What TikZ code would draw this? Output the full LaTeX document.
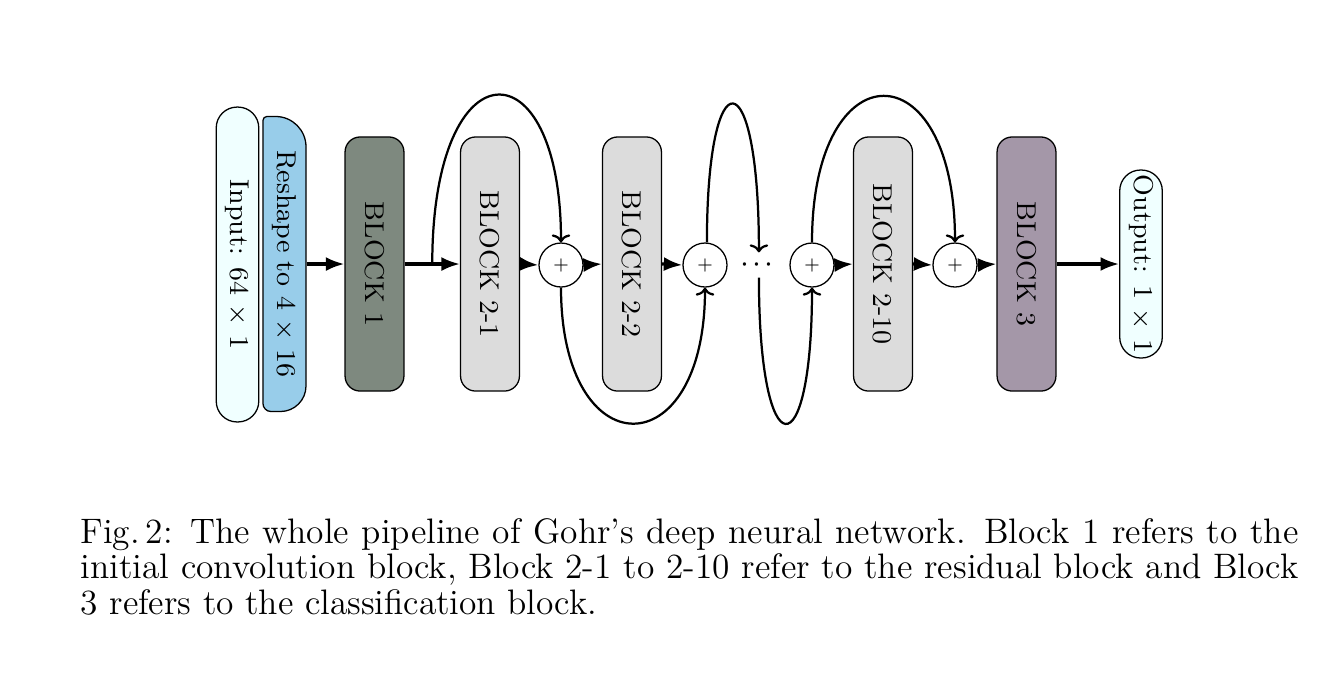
\documentclass[tikz,border=0pt]{standalone}
\usepackage{graphicx}
\usetikzlibrary{arrows.meta,calc}
\definecolor{inpcol}{RGB}{240,255,255}
\definecolor{reshcol}{RGB}{152,205,234}
\definecolor{bonecol}{RGB}{126,137,127}
\definecolor{btwocol}{RGB}{220,220,220}
\definecolor{bthreecol}{RGB}{164,151,168}
\newcommand{\rot}[1]{\rotatebox{-90}{#1}}
\begin{document}
\begin{tikzpicture}[x=0.3125pt,y=-0.3125pt,
  dfont/.style={font=\fontsize{8.5}{10}\selectfont},
  blk/.style={draw, line width=0.4pt, rounded corners=4.7pt, minimum width=18.4pt,
    minimum height=79.4pt, inner sep=0pt, dfont},
  pill/.style={draw, line width=0.4pt, fill=inpcol, minimum width=13.3pt,
    rounded corners=6.5pt, inner sep=0pt, dfont},
  addc/.style={draw, circle, line width=0.4pt, fill=white, minimum size=13.75pt,
    inner sep=0pt, font=\tiny},
  flow/.style={line width=1pt, -{Latex[length=5.8pt,width=4.4pt]}},
  skiparr/.style={line width=0.7pt, -{To[width=5.8pt,length=2.5pt]}}]
\useasboundingbox[fill=white] (0,0) rectangle (1328,672);

% input
\node[pill, minimum height=98.4pt] (inp) at (237.5,264.5) {\rot{Input: 64 $\times$ 1}};

% reshape (custom outline)
\coordinate (rc) at (284.5,264);
\begin{scope}[shift={(rc)}, x=1pt, y=1pt]
\draw[fill=reshcol, line width=0.4pt] (-6.72,-43.6) -- (-6.72,44.9)
  arc[start angle=180,end angle=90,radius=1.2] -- (-2.78,46.1)
  arc[start angle=90,end angle=0,radius=9.5] -- (6.72,-38.1)
  arc[start angle=0,end angle=-90,radius=8] -- (-4.22,-46.1)
  arc[start angle=-90,end angle=-180,radius=2.5] -- cycle;
\end{scope}
\node[dfont, minimum width=13.44pt, minimum height=92.2pt, inner sep=0pt] (resh) at (rc)
  {\rot{Reshape to 4 $\times$ 16}};

% blocks
\node[blk, fill=bonecol] (b1) at (374.5,264) {\rot{BLOCK 1}};
\node[blk, fill=btwocol] (b21) at (490,264) {\rot{BLOCK 2-1}};
\node[addc] (c1) at (561,265) {$+$};
\node[blk, fill=btwocol] (b22) at (632,264) {\rot{BLOCK 2-2}};
\node[addc] (c2) at (705,265) {$+$};
\node[minimum height=7.5pt, inner sep=0pt, font=\fontsize{10}{12}\selectfont] (dots) at (757,265)
  {${\cdot}\kern1.1pt{\cdot}\kern1.1pt{\cdot}$};
\node[addc] (c3) at (812,265) {$+$};
\node[blk, fill=btwocol] (b210) at (883,264) {\rot{BLOCK 2-10}};
\node[addc] (c4) at (955,265) {$+$};
\node[blk, fill=bthreecol] (b3) at (1026.5,264) {\rot{BLOCK 3}};
\node[pill, minimum height=58.75pt] (out) at (1141,264) {\rot{Output: 1 $\times$ 1}};

% main flow
\draw[flow] (resh.east) -- (b1.west);
\draw[flow] (b1.east) -- (b21.west);
\draw[flow] (b21.east) -- (c1.west);
\draw[flow] (c1.east) -- (b22.west);
\draw[flow] (b22.east) -- (c2.west);
\draw[flow] (c3.east) -- (b210.west);
\draw[flow] (b210.east) -- (c4.west);
\draw[flow] (c4.east) -- (b3.west);
\draw[flow] (b3.east) -- (out.west);

% skip connections
\coordinate (s1) at ($(b1.east)!0.5!(b21.west)$);
\draw[skiparr] (s1) .. controls +(0,-222) and +(0,-200) .. (c1.north);
\draw[skiparr] (c1.south) .. controls +(0,181) and +(0,181) .. (c2.south);
\draw[skiparr] ([xshift=0.6pt]c2.north) .. controls +(0,-187) and +(0,-196) .. ([xshift=0.6pt]dots.north);
\draw[skiparr] ([xshift=0.6pt]dots.south) .. controls +(0,193) and +(0,183) .. (c3.south);
\draw[skiparr] (c3.north) .. controls +(0,-195) and +(0,-195) .. (c4.north);

% caption
\node[anchor=base west, text width=380.6pt, inner sep=0pt, align=justify,
  font=\fontsize{11.06}{11.1}\selectfont] (cap) at (80,543)
  {Fig.\,2: The whole pipeline of Gohr's deep neural network. Block 1 refers to the\linebreak
   initial convolution block, Block 2-1 to 2-10 refer to the residual block and Block\linebreak
   3 refers to the classification block.};
\end{tikzpicture}
\end{document}
